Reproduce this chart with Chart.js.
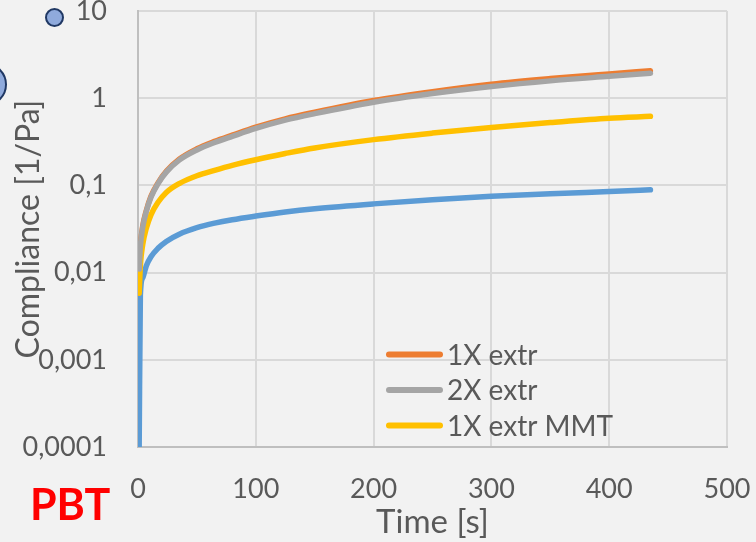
<!DOCTYPE html>
<html>
<head>
<meta charset="utf-8">
<script src="https://cdn.jsdelivr.net/npm/chart.js@4"></script>
<style>
  html, body { margin: 0; padding: 0; background: #f2f2f2; }
  #wrap { position: relative; width: 756px; height: 542px; overflow: hidden; }
  #grafica { position: absolute; left: 0; top: 0; }
  .dot { position: absolute; border-radius: 50%; background: #8faadc; border: 2px solid #203864; box-sizing: border-box; }
</style>
</head>
<body>
<div id="wrap">
  <canvas id="grafica" width="756" height="542"></canvas>
  <div class="dot" style="left:45px; top:8px; width:19px; height:19px;"></div>
  <div class="dot" style="left:-36px; top:63px; width:43px; height:43px; border-width:2.5px;"></div>
</div>
<script>
// tiempo [s] y compliance [1/Pa]
const timeS = [1, 2, 4, 7, 11, 17, 24, 35, 50, 65, 80, 100, 125, 150, 200, 250, 300, 350, 400, 435]
const pbt = [0.0001, 0.0055, 0.0087, 0.0119, 0.0152, 0.019, 0.0228, 0.0276, 0.0328, 0.0369, 0.0404, 0.0445, 0.0496, 0.054, 0.0614, 0.0684, 0.075, 0.080, 0.0851, 0.0889]
const extr1x = [0.011, 0.02, 0.034, 0.051, 0.075, 0.107, 0.145, 0.2, 0.263, 0.32, 0.377, 0.466, 0.58, 0.69, 0.94, 1.19, 1.45, 1.68, 1.90, 2.06]
const extr2x = [0.011, 0.02, 0.033, 0.05, 0.073, 0.105, 0.142, 0.195, 0.255, 0.31, 0.365, 0.45, 0.56, 0.665, 0.90, 1.13, 1.36, 1.58, 1.78, 1.93]
const extr1xMmt = [0.0058, 0.012, 0.021, 0.032, 0.046, 0.064, 0.083, 0.105, 0.129, 0.149, 0.170, 0.197, 0.232, 0.269, 0.335, 0.398, 0.462, 0.525, 0.589, 0.619]

const seriesNames = ['PBT', '1X extr', '2X extr', '1X extr MMT']
const seriesValues = [pbt, extr1x, extr2x, extr1xMmt]
const seriesColors = ['#5b9bd5', '#ed7d31', '#a5a5a5', '#ffc000']
const inLegend = [false, true, true, true]
const drawOrder = [3, 2, 0, 1]

const xTicks = [0, 100, 200, 300, 400, 500]
const yTicks = [0.0001, 0.001, 0.01, 0.1, 1, 10]
const yTickLabels = ['0,0001', '0,001', '0,01', '0,1', '1', '10']

const textColor = '#595959'

const datasets = seriesNames.map((name, i) => ({
    label: name,
    data: timeS.map((t, j) => ({ x: t, y: seriesValues[i][j] })),
    borderColor: seriesColors[i],
    backgroundColor: seriesColors[i],
    borderWidth: 5.5,
    borderCapStyle: 'round',
    borderJoinStyle: 'round',
    pointRadius: 0,
    fill: false,
    cubicInterpolationMode: 'monotone',
    order: drawOrder[i],
    showInLegend: inLegend[i]
}))

// leyenda dentro del area de la grafica + etiqueta PBT
const insideLegend = {
    id: 'insideLegend',
    afterDraw(chart) {
        const { ctx, chartArea } = chart
        ctx.save()
        let row = 0
        chart.data.datasets.forEach(ds => {
            if (!ds.showInLegend) return
            const y = chartArea.bottom - 92.5 + row * 35.5
            const x = chartArea.left + 251
            ctx.strokeStyle = ds.borderColor
            ctx.lineWidth = 6
            ctx.lineCap = 'round'
            ctx.beginPath()
            ctx.moveTo(x, y)
            ctx.lineTo(x + 51, y)
            ctx.stroke()
            ctx.fillStyle = textColor
            ctx.font = '28px Lato'
            ctx.textAlign = 'left'
            ctx.textBaseline = 'middle'
            ctx.fillText(ds.label, x + 58, y + 1)
            row++
        })
        ctx.fillStyle = '#ff0000'
        ctx.font = 'bold 43px Lato'
        ctx.textAlign = 'left'
        ctx.textBaseline = 'alphabetic'
        ctx.fillText('PBT', 30, 520)
        ctx.restore()
    }
}

const gridColor = edge => c => (c.tick && c.tick.value === edge ? '#bfbfbf' : '#d9d9d9')

const graph = document.querySelector('#grafica')

const config = {
    type: 'line',
    data: { datasets: datasets },
    options: {
        responsive: false,
        animation: false,
        devicePixelRatio: 1,
        layout: { padding: { top: 11, left: 0, right: 29, bottom: 0 } },
        plugins: {
            legend: { display: false },
            tooltip: { enabled: false }
        },
        scales: {
            x: {
                type: 'linear',
                min: 0,
                max: 500,
                afterBuildTicks: s => { s.ticks = xTicks.map(v => ({ value: v })) },
                ticks: { font: { family: 'Lato', size: 27 }, color: textColor, padding: 26, maxRotation: 0 },
                grid: { color: gridColor(0), lineWidth: 2, drawTicks: false },
                border: { color: '#bfbfbf', width: 2 },
                title: { display: true, text: 'Time [s]', font: { family: 'Lato', size: 33 }, color: textColor, padding: 0 },
                afterFit: s => { s.height = 95; s.paddingLeft = 0; s.paddingRight = 0 }
            },
            y: {
                type: 'logarithmic',
                min: 0.0001,
                max: 10,
                afterBuildTicks: s => { s.ticks = yTicks.map(v => ({ value: v })) },
                ticks: { callback: (v, i) => yTickLabels[i], font: { family: 'Lato', size: 27 }, color: textColor, padding: 31 },
                grid: { color: gridColor(0.0001), lineWidth: 2, drawTicks: false },
                border: { color: '#bfbfbf', width: 2 },
                title: { display: true, text: 'Compliance [1/Pa]', font: { family: 'Lato', size: 32 }, color: textColor, padding: { top: 9, bottom: 0 } },
                afterFit: s => { s.width = 138; s.paddingTop = 0; s.paddingBottom = 0 }
            }
        }
    },
    plugins: [insideLegend]
}

new Chart(graph, config)
</script>
</body>
</html>
